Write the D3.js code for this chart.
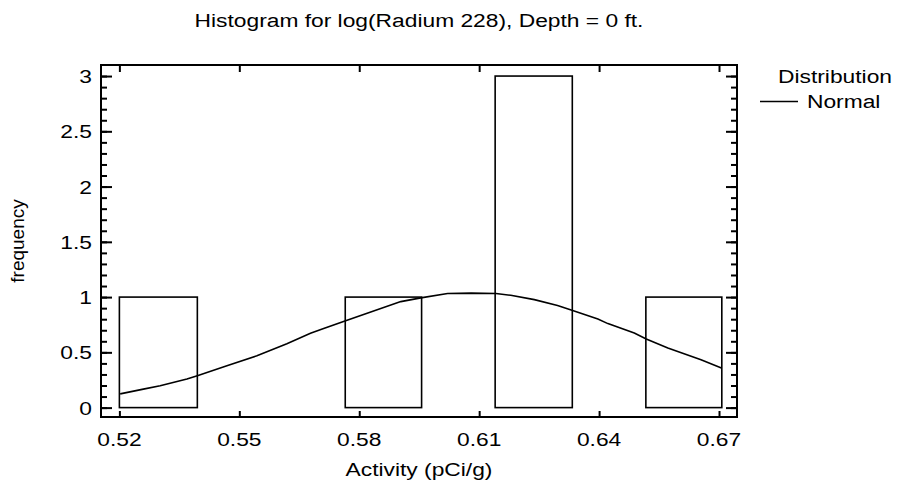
<!DOCTYPE html>
<html><head><meta charset="utf-8">
<script src="https://cdn.jsdelivr.net/npm/d3@7"></script>
<style>body{margin:0;background:#fff}svg{display:block}text{font-family:"Liberation Sans",Arial,sans-serif;fill:#000}</style>
</head><body><svg id="c" width="899" height="489"></svg>
<script>
// ---- data ----
const binEdges = [0.5200, 0.5395, 0.5583, 0.5765, 0.5956, 0.6140, 0.6333, 0.6517, 0.6707];
const binCounts = [1, 0, 0, 1, 0, 3, 0, 1];
const curveX = [0.5202,0.5260,0.5302,0.5369,0.5395,0.5469,0.5544,0.5619,0.5678,0.5711,0.5766,0.5904,0.5954,0.6021,0.6080,0.6142,0.6179,0.6238,0.6296,0.6332,0.6397,0.6422,0.6488,0.6518,0.6572,0.6655,0.6706];
const curveY = [0.124,0.167,0.197,0.258,0.288,0.378,0.469,0.578,0.672,0.715,0.786,0.959,0.993,1.032,1.036,1.032,1.016,0.977,0.923,0.880,0.802,0.760,0.675,0.621,0.539,0.433,0.358];
const xTicks = [0.52, 0.55, 0.58, 0.61, 0.64, 0.67];
const yTicks = [0, 0.5, 1, 1.5, 2, 2.5, 3];
const yMinorTicks = d3.range(0, 31).map(i => i / 10);
const title = "Histogram for log(Radium 228), Depth = 0 ft.";
const xTitle = "Activity (pCi/g)";
const yTitle = "frequency";
const legendTitle = "Distribution";
const legendItems = ["Normal"];

// ---- layout ----
const L = 101, R = 737, T = 65, B = 417;
const SX = 1.2, FS = 19;
const svg = d3.select("#c");
const x = d3.scaleLinear().domain([0.5154, 0.6745]).range([L, R]);
const y = d3.scaleLinear().domain([-0.085, 3.10]).range([B, T]);

function stext(g, str, px, py, anchor, size) {
  return g.append("text").attr("transform", `translate(${px},${py}) scale(${SX},1)`)
    .attr("text-anchor", anchor).attr("font-size", size || FS).text(str);
}

// bars
svg.append("g").selectAll("rect").data(binCounts).join("rect")
  .attr("x", (d, i) => x(binEdges[i]))
  .attr("width", (d, i) => x(binEdges[i + 1]) - x(binEdges[i]))
  .attr("y", d => y(d)).attr("height", d => y(0) - y(d))
  .attr("fill", "none").attr("stroke", "#000").attr("stroke-width", 1.6);

// curve
const pts = curveX.map((v, i) => [v, curveY[i]]);
svg.append("path").datum(pts)
  .attr("d", d3.line().x(d => x(d[0])).y(d => y(d[1])))
  .attr("fill", "none").attr("stroke", "#000").attr("stroke-width", 1.6);

// axes (ticks inward)
const axL = svg.append("g").attr("transform", `translate(${L},0)`);
axL.call(d3.axisRight(y).tickValues(yMinorTicks).tickSize(6).tickFormat(""));
axL.append("g").call(d3.axisRight(y).tickValues(yTicks).tickSize(11).tickFormat(""));
const axR = svg.append("g").attr("transform", `translate(${R},0)`);
axR.call(d3.axisLeft(y).tickValues(yMinorTicks).tickSize(6).tickFormat(""));
axR.append("g").call(d3.axisLeft(y).tickValues(yTicks).tickSize(11).tickFormat(""));
const axB = svg.append("g").attr("transform", `translate(0,${B})`);
axB.call(d3.axisTop(x).tickValues(xTicks).tickSize(6).tickFormat(""));
const axT = svg.append("g").attr("transform", `translate(0,${T})`);
axT.call(d3.axisBottom(x).tickValues(xTicks).tickSize(7).tickFormat(""));
svg.selectAll(".domain").remove();
svg.selectAll(".tick line").attr("stroke", "#000").attr("stroke-width", 2);

// frame
svg.append("rect").attr("x", L).attr("y", T).attr("width", R - L).attr("height", B - T)
  .attr("fill", "none").attr("stroke", "#000").attr("stroke-width", 2);

// tick labels
const lab = svg.append("g");
yTicks.forEach(v => stext(lab, d3.format("")(v), 92, y(v) + 7, "end"));
xTicks.forEach(v => stext(lab, d3.format(".2f")(v), x(v), 446, "middle"));

// titles
stext(svg, title, (L + R) / 2, 27, "middle");
stext(svg, xTitle, (L + R) / 2, 476, "middle");
svg.append("text").attr("transform", `translate(24,${(T + B) / 2}) rotate(-90)`)
  .attr("text-anchor", "middle").attr("font-size", FS).text(yTitle);

// legend
stext(svg, legendTitle, 835, 83, "middle");
legendItems.forEach((t, i) => {
  svg.append("line").attr("x1", 760).attr("x2", 798).attr("y1", 101.5 + i * 26).attr("y2", 101.5 + i * 26)
    .attr("stroke", "#000").attr("stroke-width", 1.6);
  stext(svg, t, 807, 108 + i * 26, "start");
});
</script></body></html>
